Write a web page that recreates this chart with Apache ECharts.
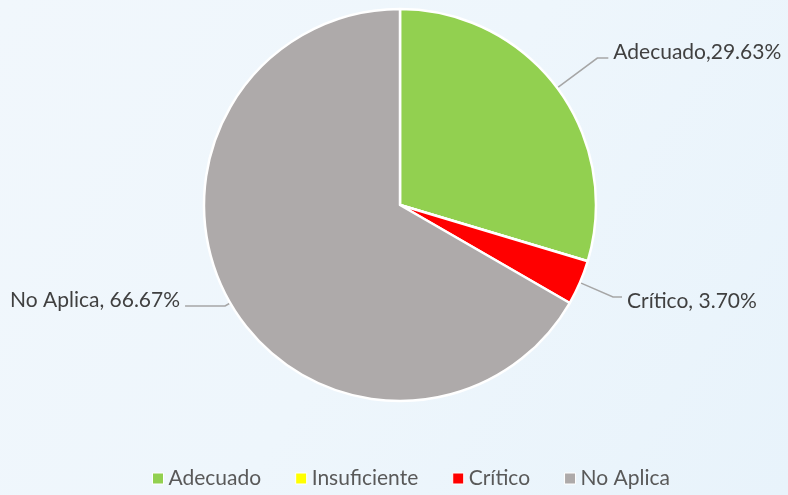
<!DOCTYPE html>
<html>
<head>
<meta charset="utf-8">
<script src="https://cdn.jsdelivr.net/npm/echarts@6/dist/echarts.min.js"></script>
<style>
  html, body { margin: 0; padding: 0; }
  #chart { width: 788px; height: 495px; }
</style>
</head>
<body>
<div id="chart"></div>
<script>
// categories and values (27 cases)
const categories = ['Adecuado', 'Insuficiente', 'Crítico', 'No Aplica']
const counts = [8, 0, 1, 18]
const colors = ['#92d050', '#ffff00', '#ff0000', '#aeaaaa']
const separators = [',', ', ', ', ', ', ']

// leader line tuning per slice: [length, length2], and label nudge up/down
const leaders = [[50, 11], [0, 0], [36, 9], [6, 40]]
const labelNudge = [-6, 0, 4, -6]

const chart = echarts.init(document.getElementById('chart'))

const data = categories.map((name, i) => {
  const item = {
    name,
    value: counts[i],
    itemStyle: { color: colors[i] },
    labelLine: { length: leaders[i][0], length2: leaders[i][1] }
  }
  if (counts[i] === 0) {
    item.label = { show: false }
    item.labelLine = { show: false }
  }
  return item
})

chart.setOption({
  backgroundColor: {
    type: 'linear', x: 0, y: 0, x2: 1, y2: 1,
    colorStops: [
      { offset: 0, color: '#f1f7fc' },
      { offset: 0.5, color: '#eef6fc' },
      { offset: 1, color: '#e8f3fb' }
    ]
  },
  textStyle: { fontFamily: 'Lato, "Open Sans", sans-serif' },
  legend: {
    bottom: 1,
    left: 147,
    icon: 'rect',
    itemWidth: 11,
    itemHeight: 11,
    itemGap: 34,
    itemStyle: { borderColor: '#ffffff', borderWidth: 1 },
    textStyle: { fontSize: 21, color: '#595959' },
    data: categories
  },
  series: [{
    type: 'pie',
    center: [400, 205],
    radius: 196,
    startAngle: 90,
    clockwise: true,
    avoidLabelOverlap: false,
    animation: false,
    itemStyle: { borderColor: '#ffffff', borderWidth: 2.5 },
    label: {
      show: true,
      fontSize: 21,
      color: '#404040',
      formatter: (p) => {
        const i = categories.indexOf(p.name)
        return p.name + separators[i] + p.percent.toFixed(2) + '%'
      }
    },
    labelLine: {
      show: true,
      lineStyle: { color: '#a6a6a6', width: 1.5 }
    },
    labelLayout: (params) => ({ dy: labelNudge[params.dataIndex] }),
    data
  }]
})
</script>
</body>
</html>
